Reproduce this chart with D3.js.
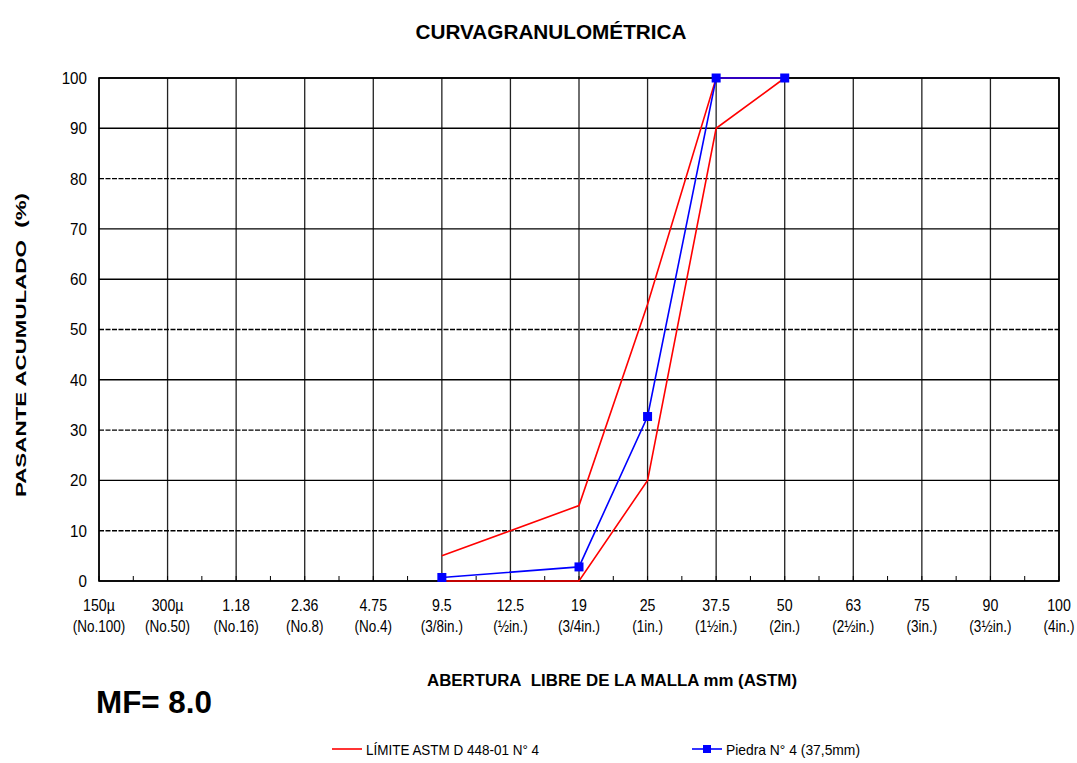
<!DOCTYPE html>
<html>
<head>
<meta charset="utf-8">
<script src="https://cdn.jsdelivr.net/npm/d3@7/dist/d3.min.js"></script>
<style>
  html, body { margin: 0; padding: 0; background: #fff; }
  svg { display: block; font-family: "Liberation Sans", Arial, sans-serif; }
</style>
</head>
<body>
<svg id="chart" width="1077" height="763"></svg>
<script>
// ---- Data ----
const categories = ["150µ","300µ","1.18","2.36","4.75","9.5","12.5","19","25","37.5","50","63","75","90","100"];
const subLabels = ["(No.100)","(No.50)","(No.16)","(No.8)","(No.4)","(3/8in.)","(½in.)","(3/4in.)","(1in.)","(1½in.)","(2in.)","(2½in.)","(3in.)","(3½in.)","(4in.)"];
const sieves = ["9.5","19","25","37.5","50"];
const upperLimit = [5, 15, 55, 100, 100];
const lowerLimit = [0, 0, 20, 90, 100];
const sample = [0.7, 2.8, 32.7, 100, 100];
const yTicks = [0,10,20,30,40,50,60,70,80,90,100];
const dashedTicks = [10,30,50,80];

const title = "CURVAGRANULOMÉTRICA";
const xTitle = "ABERTURA\u00A0\u00A0LIBRE DE LA MALLA mm (ASTM)";
const yTitle = "PASANTE ACUMULADO\u00A0\u00A0(%)";
const mfText = "MF= 8.0";
const legendLimit = "LÍMITE ASTM D 448-01 N° 4";
const legendSample = "Piedra N° 4 (37,5mm)";

(function () {
// ---- Layout ----
const svg = d3.select("#chart");
const pL = 99, pR = 1059, pT = 78, pB = 581;
const x = d3.scalePoint().domain(categories).range([pL, pR]);
const y = d3.scaleLinear().domain([0, 100]).range([pB, pT]);
const RED = "#ff0000", BLUE = "#0000ff";

// vertical grid
svg.append("g").selectAll("line").data(categories).join("line")
  .attr("x1", d => x(d)).attr("x2", d => x(d))
  .attr("y1", pT).attr("y2", pB)
  .attr("stroke", "#222").attr("stroke-width", 1.3);

// horizontal grid
svg.append("g").selectAll("line").data(yTicks).join("line")
  .attr("x1", pL).attr("x2", pR)
  .attr("y1", d => y(d)).attr("y2", d => y(d))
  .attr("stroke", "#000").attr("stroke-width", 1.4)
  .attr("stroke-dasharray", d => dashedTicks.includes(d) ? "5,1.5" : null);

// plot border
svg.append("rect").attr("x", pL).attr("y", pT)
  .attr("width", pR - pL).attr("height", pB - pT)
  .attr("fill", "none").attr("stroke", "#000").attr("stroke-width", 1.6);

// minor ticks on x axis (category positions and midpoints)
const step = x.step();
const tickPos = [];
categories.forEach((c, i) => {
  tickPos.push(x(c));
  if (i < categories.length - 1) tickPos.push(x(c) + step / 2);
});
svg.append("g").selectAll("line").data(tickPos).join("line")
  .attr("x1", d => d).attr("x2", d => d)
  .attr("y1", pB).attr("y2", pB - 5)
  .attr("stroke", "#000").attr("stroke-width", 1);

// y axis labels
svg.append("g").selectAll("text").data(yTicks).join("text")
  .attr("x", 87).attr("y", d => y(d) + 6)
  .attr("text-anchor", "end").attr("font-size", 16.5)
  .attr("transform", `translate(87,0) scale(0.92,1) translate(-87,0)`)
  .text(d => d);

// x axis labels
const xl = svg.append("g");
xl.selectAll("text.l1").data(categories).join("text").attr("class", "l1")
  .attr("x", d => x(d)).attr("y", 611)
  .attr("text-anchor", "middle").attr("font-size", 16.5)
  .attr("transform", d => `translate(${x(d)},0) scale(0.86,1) translate(${-x(d)},0)`)
  .text(d => d);
xl.selectAll("text.l2").data(categories).join("text").attr("class", "l2")
  .attr("x", d => x(d)).attr("y", 632)
  .attr("text-anchor", "middle").attr("font-size", 16.5)
  .attr("transform", d => `translate(${x(d)},0) scale(0.82,1) translate(${-x(d)},0)`)
  .text((d, i) => subLabels[i]);

// lines
const line = d3.line().x(d => x(d.s)).y(d => y(d.v));
const mk = arr => sieves.map((s, i) => ({ s, v: arr[i] }));

svg.append("path").datum(mk(upperLimit)).attr("d", line)
  .attr("fill", "none").attr("stroke", RED).attr("stroke-width", 1.6);
svg.append("path").datum(mk(lowerLimit)).attr("d", line)
  .attr("fill", "none").attr("stroke", RED).attr("stroke-width", 1.6);
svg.append("path").datum(mk(sample)).attr("d", line)
  .attr("fill", "none").attr("stroke", BLUE).attr("stroke-width", 1.6);
svg.append("g").selectAll("rect").data(mk(sample)).join("rect")
  .attr("x", d => x(d.s) - 4.5).attr("y", d => y(d.v) - 4.5)
  .attr("width", 9).attr("height", 9).attr("fill", BLUE);

// title
svg.append("text").attr("x", 551).attr("y", 39)
  .attr("text-anchor", "middle").attr("font-size", 21).attr("font-weight", "bold")
  .attr("textLength", 271).attr("lengthAdjust", "spacingAndGlyphs")
  .text(title);

// x title
svg.append("text").attr("x", 612).attr("y", 686)
  .attr("text-anchor", "middle").attr("font-size", 16).attr("font-weight", "bold")
  .attr("textLength", 370).attr("lengthAdjust", "spacingAndGlyphs")
  .text(xTitle);

// y title
svg.append("text")
  .attr("transform", "translate(26,345) rotate(-90)")
  .attr("text-anchor", "middle").attr("font-size", 15.5).attr("font-weight", "bold")
  .attr("textLength", 304).attr("lengthAdjust", "spacingAndGlyphs")
  .text(yTitle);

// MF
svg.append("text").attr("x", 96).attr("y", 713)
  .attr("font-size", 31).attr("font-weight", "bold")
  .attr("textLength", 116).attr("lengthAdjust", "spacingAndGlyphs")
  .text(mfText);

// legend
const lg = svg.append("g");
lg.append("line").attr("x1", 332).attr("x2", 362).attr("y1", 749).attr("y2", 749)
  .attr("stroke", RED).attr("stroke-width", 1.6);
lg.append("text").attr("x", 366).attr("y", 755).attr("font-size", 14.5)
  .attr("textLength", 173).attr("lengthAdjust", "spacingAndGlyphs")
  .text(legendLimit);
lg.append("line").attr("x1", 692).attr("x2", 722).attr("y1", 749).attr("y2", 749)
  .attr("stroke", BLUE).attr("stroke-width", 1.6);
lg.append("rect").attr("x", 703).attr("y", 745).attr("width", 8).attr("height", 8).attr("fill", BLUE);
lg.append("text").attr("x", 726).attr("y", 755).attr("font-size", 14.5)
  .attr("textLength", 134).attr("lengthAdjust", "spacingAndGlyphs")
  .text(legendSample);
})();
</script>
</body>
</html>
